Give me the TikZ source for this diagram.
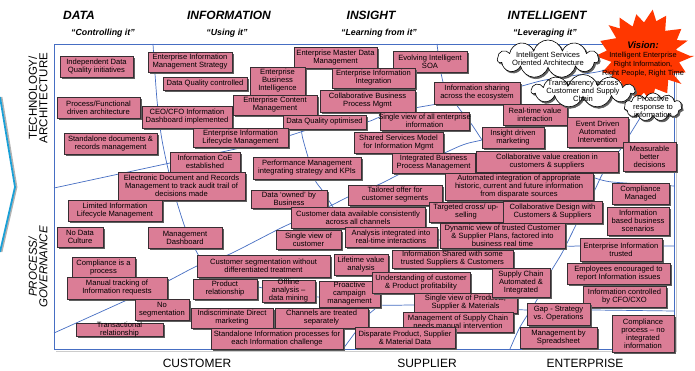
\documentclass[tikz,border=0pt]{standalone}
\usepackage{fontspec}
\setmainfont{Liberation Sans}
\usetikzlibrary{shapes.symbols}

\definecolor{boxpink}{RGB}{219,125,150}
\definecolor{boxedge}{RGB}{55,45,50}
\definecolor{boxshade}{RGB}{95,95,95}
\definecolor{zoneblue}{RGB}{70,110,195}
\definecolor{visred}{RGB}{255,55,0}
\definecolor{arrowcyan}{RGB}{25,160,215}

\tikzset{
  pinkbox/.style={draw=boxedge, fill=boxpink, line width=0.6pt, inner sep=0pt, outer sep=0pt},
  boxtext/.style={font=\fontsize{7.6}{8}\selectfont, align=center, inner sep=0pt, text=black},
  zone/.style={draw=zoneblue, line width=0.7pt},
  head/.style={font=\fontsize{12}{13}\selectfont\bfseries\itshape, inner sep=0pt},
  subhead/.style={font=\fontsize{8.8}{10}\selectfont\bfseries\itshape, inner sep=0pt},
  axislabel/.style={font=\fontsize{12}{13}\selectfont, inner sep=0pt},
  cloudbox/.style={cloud, cloud puffs=11, cloud ignores aspect, draw=black, fill=white, line width=0.6pt, inner sep=0pt},
}

% \pbox{name}{x1}{y1}{x2}{y2}{text}: shaded pink box with centred text
\newcommand\pbox[6]{%
  \fill[boxshade] (#2+1.6,#3+1.6) rectangle (#4+1.6,#5+1.6);
  \node[pinkbox, minimum width={#4-#2}, minimum height={#5-#3}] (#1) at ({(#2+#4)/2},{(#3+#5)/2}) {};
  \node[boxtext] at (#1.center) {#6};
}

\begin{document}
\begin{tikzpicture}[x=1pt,y=-1pt]
\useasboundingbox (0,0) rectangle (695,371);
\fill[white] (0,0) rectangle (695,371);

% left chevron
\draw[gray!60, line width=1.8pt] (1.5,97) -- (16.5,187) -- (1.5,252);
\draw[arrowcyan, line width=1.8pt] (0,97) -- (15,187) -- (0,252);

% frame
\draw[gray!40, line width=0.8pt] (56,351) -- (676,351) -- (676,46);
\draw[zoneblue, line width=0.8pt] (54,44) rectangle (674,349);

% zone boundaries
\draw[zone] plot[smooth, tension=0.5] coordinates {(153,44) (157,100) (162,140) (172,185) (186,230) (200,258)};
\draw[zone] plot[smooth, tension=0.4] coordinates {(200,262) (232,277) (258,287) (318,297) (380,305) (415,305) (470,307) (527,310) (590,310) (674,311)};
\draw[zone] plot[smooth, tension=0.4] coordinates {(54,188) (170,163) (240,148) (288,136) (315,128) (366,122) (380,117) (415,108) (437,104) (480,95) (518,87) (545,80) (597,72) (612,68)};
\draw[zone] plot[smooth, tension=0.4] coordinates {(54,333) (127,300) (168,281) (197,266) (230,254) (283,227) (330,206) (348,197) (380,184) (400,174) (460,146) (482,140) (530,128) (570,124) (630,120)};
\draw[zone] plot[smooth, tension=0.4] coordinates {(437,44) (443,82) (458,107) (470,122) (482,140)};
\draw[zone] plot[smooth, tension=0.4] coordinates {(640,118) (620,150) (603,173) (592,196) (577,223) (562,253) (550,273) (538,298) (520,327) (510,349)};
\draw[zone] plot[smooth, tension=0.4] coordinates {(595,178) (612,182) (674,186)};
\draw[zone] plot[smooth, tension=0.4] coordinates {(430,240) (440,240) (565,246) (580,246) (674,246)};
\draw[zone] plot[smooth, tension=0.4] coordinates {(300,112) (302,135) (308,157) (315,180) (322,190) (333,207)};
\draw[zone] plot[smooth, tension=0.4] coordinates {(380,305) (368,315) (357,330) (343,349)};

% maturity boxes
\pbox{ind}{60}{56}{133}{77}{Independent Data\\Quality initiatives}
\pbox{eims}{148}{52}{232}{72}{Enterprise Information\\Management Strategy}
\pbox{dqc}{163}{77}{247}{90}{Data Quality controlled}
\pbox{pfa}{57}{97}{140}{118}{Process/Functional\\driven architecture}
\pbox{ceo}{142}{106}{232}{128}{CEO/CFO Information\\Dashboard implemented}
\pbox{emdm}{294}{47}{377}{68}{Enterprise Master Data\\Management}
\pbox{soa}{393}{51}{467}{72}{Evolving Intelligent\\SOA}
\pbox{eii}{332}{68}{415}{88}{Enterprise Information\\Integration}
\pbox{ebi}{250}{67}{305}{95}{Enterprise\\Business\\Intelligence}
\pbox{ecm}{233}{95}{317}{115}{Enterprise Content\\Management}
\pbox{cbpm}{320}{90}{415}{112}{Collaborative Business\\Process Mgmt}
\pbox{dqo}{283}{115}{366}{129}{Data Quality optimised}
\pbox{ise}{434}{82}{520}{104}{Information sharing\\across the ecosystem}
\pbox{sva}{380}{112}{469}{130}{Single view of all enterprise\\information}
\pbox{rtv}{503}{104}{567}{125}{Real-time value\\interaction}
\pbox{edai}{567}{117}{628}{147}{Event Driven\\Automated\\Intervention}
\pbox{idm}{482}{127}{544}{148}{Insight driven\\marketing}
\pbox{mbd}{623}{142}{676}{171}{Measurable\\better\\decisions}
\pbox{ssm}{354}{132}{443}{153}{Shared Services Model\\for Information Mgmt}
\pbox{ibpm}{392}{153}{475}{173}{Integrated Business\\Process Management}
\pbox{cvc}{476}{151}{618}{172}{Collaborative value creation in\\customers \& suppliers}
\pbox{elm}{193}{128}{288}{147}{Enterprise Information\\Lifecycle Management}
\pbox{sdr}{64}{133}{157}{154}{Standalone documents \&\\records management}
\pbox{coe}{170}{152}{240}{172}{Information CoE\\established}
\pbox{edrm}{118}{172}{245}{200}{Electronic Document and Records\\Management to track audit trail of\\decisions made}
\pbox{pm}{253}{157}{361}{179}{Performance Management\\integrating strategy and KPIs}
\pbox{ai}{445}{173}{593}{200}{Automated integration of appropriate\\historic, current and future information\\from disparate sources}
\pbox{cm}{612}{183}{669}{204}{Compliance\\Managed}
\pbox{tos}{348}{185}{442}{205}{Tailored offer for\\customer segments}
\pbox{dob}{251}{190}{327}{208}{Data ‘owned’ by\\Business}
\pbox{cda}{291}{207}{425}{228}{Customer data available consistently\\across all channels}
\pbox{tcu}{429}{202}{503}{222}{Targeted cross/ up-\\selling}
\pbox{cdcs}{503}{201}{602}{223}{Collaborative Design with\\Customers \& Suppliers}
\pbox{ibs}{607}{207}{669}{235}{Information\\based business\\scenarios}
\pbox{svc}{276}{230}{341}{249}{Single view of\\customer}
\pbox{ait}{345}{227}{437}{247}{Analysis integrated into\\real-time interactions}
\pbox{dv}{440}{223}{565}{248}{Dynamic view of trusted Customer\\\& Supplier Plans, factored into\\business real time}
\pbox{eit}{580}{238}{662}{261}{Enterprise Information\\trusted}
\pbox{lilm}{68}{200}{162}{221}{Limited Information\\Lifecycle Management}
\pbox{ndc}{57}{227}{103}{247}{No Data\\Culture}
\pbox{md}{148}{227}{222}{248}{Management\\Dashboard}
\pbox{csw}{197}{255}{330}{277}{Customer segmentation without\\differentiated treatment}
\pbox{lva}{334}{254}{388}{275}{Lifetime value\\analysis}
\pbox{iss}{392}{250}{513}{268}{Information Shared with some\\trusted Suppliers \& Customers}
\pbox{emp}{567}{263}{670}{284}{Employees encouraged to\\report Information issues}
\pbox{cip}{72}{257}{135}{279}{Compliance is a\\process}
\pbox{mti}{67}{277}{167}{299}{Manual tracking of\\Information requests}
\pbox{prr}{193}{279}{257}{299}{Product\\relationship}
\pbox{oad}{262}{280}{315}{302}{Offline\\analysis –\\data mining}
\pbox{pcm}{319}{281}{380}{307}{Proactive\\campaign\\management}
\pbox{ucp}{372}{272}{470}{293}{Understanding of customer\\\& Product profitability}
\pbox{svp}{414}{293}{517}{313}{Single view of Products,\\Supplier \& Materials}
\pbox{sca}{492}{268}{550}{297}{Supply Chain\\Automated \&\\Integrated}
\pbox{icc}{583}{286}{666}{307}{Information controlled\\by CFO/CXO}
\pbox{gap}{527}{303}{590}{325}{Gap - Strategy\\vs. Operations}
\pbox{nos}{135}{299}{189}{320}{No\\segmentation}
\pbox{trr}{76}{323}{163}{336}{Transactional\\relationship}
\pbox{idr}{191}{308}{273}{328}{Indiscriminate Direct\\marketing}
\pbox{cts}{275}{308}{368}{328}{Channels are treated\\separately}
\pbox{msc}{403}{312}{513}{332}{Management of Supply Chain\\needs manual intervention}
\pbox{sip}{211}{328}{343}{349}{Standalone Information processes for\\each Information challenge}
\pbox{dpsm}{355}{327}{455}{348}{Disparate Product, Supplier\\\& Material Data}
\pbox{mbs}{520}{327}{597}{348}{Management by\\Spreadsheet}
\pbox{cpn}{612}{315}{674}{352}{Compliance\\process – no\\integrated\\information}

% vision starburst
\fill[visred] plot[samples=37, domain=0:36, variable=\k]
  ({644+(47+3*cos(\k*77)-12*mod(round(\k),2))*cos(\k*10)},
   {56+(45+3*sin(\k*53)-11*mod(round(\k),2))*sin(\k*10)}) -- cycle;
\node[align=center, font=\fontsize{7.4}{9}\selectfont, inner sep=0pt] (vision) at (643,59)
  {{\fontsize{9.5}{10}\selectfont\bfseries\itshape Vision:}\\Intelligent Enterprise\\Right Information,\\Right People, Right Time};

% clouds
\fill[boxshade] (549.5,60.5) node[cloudbox, fill=boxshade, draw=boxshade, minimum width=101, minimum height=38] {};
\node[cloudbox, minimum width=101, minimum height=38] (isoa) at (548,59) {};
\node[boxtext] at (isoa.center) {Intelligent Services\\Oriented Architecture};
\fill[boxshade] (584.5,92.5) node[cloudbox, fill=boxshade, draw=boxshade, minimum width=103, minimum height=33] {};
\node[cloudbox, minimum width=103, minimum height=33] (trans) at (583,91) {};
\node[boxtext] at (trans.center) {Transparency across\\Customer and Supply\\Chain};
\fill[boxshade] (654.5,108.5) node[cloudbox, fill=boxshade, draw=boxshade, minimum width=58, minimum height=28] {};
\node[cloudbox, minimum width=58, minimum height=28] (proact) at (653,107) {};
\node[boxtext] at (proact.center) {Proactive\\response to\\information};

% column headings
\node[head] (hdata) at (79,15) {DATA};
\node[subhead] (sdata) at (103,33) {“Controlling it”};
\node[head] (hinfo) at (229,15) {INFORMATION};
\node[subhead] (sinfo) at (227,33) {“Using it”};
\node[head] (hins) at (371,15) {INSIGHT};
\node[subhead] (sins) at (379,33) {“Learning from it”};
\node[head] (hint) at (547,15) {INTELLIGENT};
\node[subhead] (sint) at (545,33) {“Leveraging it”};

% row headings
\node[font=\fontsize{11.5}{10.5}\selectfont, rotate=90, align=center, inner sep=0pt] (tech) at (38,98) {TECHNOLOGY/\\ARCHITECTURE};
\node[font=\fontsize{11.5}{10.5}\selectfont\itshape, rotate=90, align=center, inner sep=0pt] (proc) at (38,267) {PROCESS/\\GOVERNANCE};

% bottom axis
\node[axislabel] (cust) at (197,363) {CUSTOMER};
\node[axislabel] (supp) at (427,363) {SUPPLIER};
\node[axislabel] (ent) at (585,363) {ENTERPRISE};
\end{tikzpicture}
\end{document}
